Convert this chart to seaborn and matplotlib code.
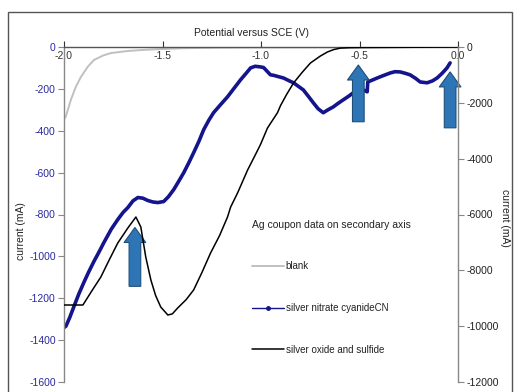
import numpy as np
import pandas as pd
import seaborn as sns
import matplotlib.pyplot as plt
from matplotlib.lines import Line2D
from matplotlib.patches import Rectangle

# blank (primary axis)
blank_v = [-2.0, -1.99, -1.965, -1.94, -1.914, -1.88, -1.848, -1.80, -1.762, -1.676, -1.60, -1.509, -1.4, -1.2, -1.0, -0.5, 0.0]
blank_i = [-345, -330, -252, -190, -143, -95, -62, -40, -29, -19, -14, -10, -6, -3, -2, -1, 0]

# silver nitrate cyanideCN (primary axis)
nitrate_v = [-2.0, -1.99, -1.97, -1.949, -1.925, -1.899, -1.875, -1.848, -1.82, -1.797, -1.76, -1.727,
             -1.70, -1.676, -1.65, -1.625, -1.60, -1.575, -1.55, -1.524, -1.494, -1.47, -1.443,
             -1.42, -1.392, -1.365, -1.342, -1.315, -1.291, -1.265, -1.241, -1.205, -1.17, -1.135,
             -1.104, -1.075, -1.053, -1.03, -1.003, -0.987, -0.965, -0.952, -0.937, -0.91, -0.886,
             -0.86, -0.835, -0.81, -0.785, -0.76, -0.734, -0.71, -0.684, -0.66, -0.633, -0.61,
             -0.582, -0.555, -0.532, -0.505, -0.481, -0.461, -0.458, -0.44, -0.41, -0.375, -0.344,
             -0.32, -0.294, -0.27, -0.243, -0.215, -0.192, -0.157, -0.13, -0.106, -0.08, -0.056, -0.04]
nitrate_i = [-1340, -1333, -1290, -1238, -1180, -1124, -1075, -1024, -975, -933, -870, -824,
             -790, -767, -735, -719, -722, -733, -740, -743, -738, -715, -681,
             -645, -600, -550, -505, -450, -395, -350, -314, -275, -238, -195,
             -157, -125, -100, -92, -95, -98, -120, -133, -135, -142, -148,
             -160, -171, -188, -205, -235, -267, -295, -314, -300, -286, -270,
             -252, -235, -219, -210, -205, -214, -167, -160, -148, -135, -124,
             -118, -119, -125, -133, -150, -167, -171, -162, -148, -125, -100, -76]

# silver oxide and sulfide (secondary axis)
oxide_v = [-2.0, -1.904, -1.86, -1.813, -1.77, -1.727, -1.676, -1.635, -1.61, -1.585, -1.559, -1.535,
           -1.509, -1.473, -1.45, -1.423, -1.38, -1.342, -1.30, -1.256, -1.21, -1.17, -1.154, -1.119,
           -1.068, -1.035, -1.003, -0.967, -0.916, -0.901, -0.87, -0.835, -0.79, -0.749, -0.70,
           -0.663, -0.63, -0.597, -0.55, -0.5, -0.3, 0.0]
oxide_i = [-9242, -9242, -8750, -8239, -7620, -7021, -6484, -6090, -6448, -7522, -8346, -8900,
           -9313, -9600, -9560, -9349, -9050, -8704, -8080, -7379, -6750, -6090, -5731, -5230,
           -4406, -3950, -3500, -2900, -2350, -2100, -1700, -1290, -900, -573, -330,
           -179, -90, -40, -25, -20, -12, 0]

# arrows (primary axis data): x, tip, base
arrow_x = [-1.64, -0.506, -0.04]
arrow_tip = [-862, -86, -119]
arrow_base = [-1143, -357, -386]

left_ticks = list(range(0, -1601, -200))
right_ticks = list(range(0, -12001, -2000))
x_ticks = [-2.0, -1.5, -1.0, -0.5, 0.0]

sns.set_style("white")
plt.rcParams["font.family"] = ["Liberation Sans", "DejaVu Sans"]
plt.rcParams["axes.unicode_minus"] = False

fig = plt.figure(figsize=(5.19, 3.92), dpi=100)
ax = fig.add_axes([64 / 519, 1 - 382 / 392, 394 / 519, 335 / 392])
ax2 = ax.twinx()

sns.lineplot(x=blank_v, y=blank_i, ax=ax, color="#c0c0c0", lw=1.4, sort=False, estimator=None)
sns.lineplot(x=nitrate_v, y=nitrate_i, ax=ax, color="#14148c", lw=2.6, sort=False, estimator=None)
sns.lineplot(x=oxide_v, y=oxide_i, ax=ax2, color="black", lw=1.1, sort=False, estimator=None)

ax.set_xlim(-2.0, 0.0)
ax.set_ylim(-1600, 0)
ax2.set_ylim(-12000, 0)
ax.set_xticks(x_ticks)
ax.set_xticklabels([f"{v:.1f}" for v in x_ticks])
ax.set_yticks(left_ticks)
ax2.set_yticks(right_ticks)

# x axis sits at current = 0 (top), ticks point upward, labels below
ax.spines["bottom"].set_position(("data", 0))
for s in ["top", "right"]:
    ax.spines[s].set_visible(False)
for s in ["top", "bottom", "left"]:
    ax2.spines[s].set_visible(False)
ax.spines["bottom"].set_color("#555555")
ax.spines["left"].set_color("#888888")
ax2.spines["right"].set_color("#888888")
for s in ["bottom", "left"]:
    ax.spines[s].set_linewidth(1.0)
ax2.spines["right"].set_linewidth(1.0)

ax.tick_params(axis="x", bottom=True, direction="in", length=4, pad=3, labelsize=7.5, colors="#333333")
ax.tick_params(axis="y", left=True, direction="out", length=4, pad=2, labelsize=7.5,
               labelcolor="#2a2aa0", color="#888888")
ax2.tick_params(axis="y", right=True, direction="out", length=4, pad=2, labelsize=7.5,
                labelcolor="#222222", color="#888888")
ax.set_ylabel("")
ax2.set_ylabel("")

for x, tip, base in zip(arrow_x, arrow_tip, arrow_base):
    ax.annotate("", xy=(x, tip), xytext=(x, base),
                arrowprops=dict(arrowstyle="simple,head_length=0.9,head_width=1.3,tail_width=0.7",
                                fc="#2e75b6", ec="#1f4e79", lw=0.8, mutation_scale=12,
                                shrinkA=0, shrinkB=0), zorder=5)

fig.text(251 / 519, 1 - 33 / 392, "Potential versus SCE (V)", fontsize=7.5, ha="center", va="center",
         color="#222222")
fig.text(21 / 519, 1 - 231 / 392, "current (mA)", fontsize=7.5, rotation=90, ha="center", va="center",
         color="#222222")
fig.text(505 / 519, 1 - 218 / 392, "current (mA)", fontsize=7.5, rotation=270, ha="center", va="center",
         color="#222222")

handles = [
    Line2D([], [], color="#c0c0c0", lw=1.4),
    Line2D([], [], color="#14148c", lw=1.0, marker="o", markersize=2.5),
    Line2D([], [], color="black", lw=1.1),
]
labels = ["blank", "silver nitrate cyanideCN", "silver oxide and sulfide"]
leg = fig.legend(handles, labels, title="Ag coupon data on secondary axis", loc="upper left",
                 bbox_to_anchor=(247 / 519, 1 - 215 / 392), frameon=False, fontsize=7,
                 title_fontsize=7.5, labelspacing=3.25, handlelength=3.3, handletextpad=0.2,
                 borderpad=0, alignment="left")
leg.get_title().set_color("#222222")
for t in leg.get_texts():
    t.set_color("#222222")

fig.patches.append(Rectangle((8 / 519, -0.02), 504 / 519, 1 - 12 / 392 + 0.02, transform=fig.transFigure,
                             fill=False, ec="#555555", lw=1.0))

fig.savefig("out.png", dpi=100)
